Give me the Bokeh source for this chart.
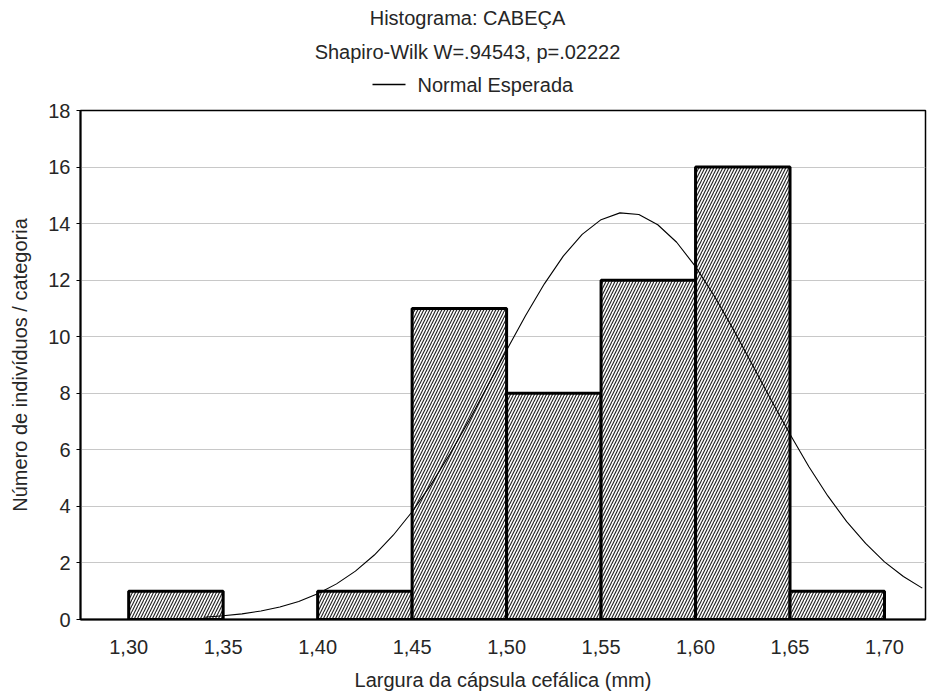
from bokeh.plotting import figure
from bokeh.models import FixedTicker, ColumnDataSource, Range1d
from bokeh.core.properties import value
from bokeh.layouts import column
from bokeh.embed import file_html
from bokeh.resources import INLINE

# Histogram bins (mm) and counts
bin_left = [1.30, 1.35, 1.40, 1.45, 1.50, 1.55, 1.60, 1.65]
bin_right = [1.35, 1.40, 1.45, 1.50, 1.55, 1.60, 1.65, 1.70]
counts = [1, 0, 1, 11, 8, 12, 16, 1]

# Expected normal curve
curve_x = [1.34, 1.35, 1.36, 1.37, 1.38, 1.39, 1.40, 1.41, 1.42, 1.43, 1.44, 1.45,
           1.46, 1.47, 1.48, 1.49, 1.50, 1.51, 1.52, 1.53, 1.54, 1.55, 1.56, 1.57,
           1.58, 1.59, 1.60, 1.61, 1.62, 1.63, 1.64, 1.65, 1.66, 1.67, 1.68, 1.69,
           1.70, 1.71, 1.72]
curve_y = [0.08, 0.13, 0.20, 0.30, 0.44, 0.64, 0.91, 1.26, 1.71, 2.28, 2.98, 3.81,
           4.77, 5.85, 7.02, 8.27, 9.52, 10.74, 11.87, 12.85, 13.62, 14.14, 14.38, 14.32,
           13.96, 13.34, 12.48, 11.43, 10.26, 9.02, 7.76, 6.55, 5.40, 4.37, 3.46, 2.69,
           2.04, 1.52, 1.11]

x_ticks = [1.30, 1.35, 1.40, 1.45, 1.50, 1.55, 1.60, 1.65, 1.70]
x_tick_labels = ["1,30", "1,35", "1,40", "1,45", "1,50", "1,55", "1,60", "1,65", "1,70"]
y_ticks = [0, 2, 4, 6, 8, 10, 12, 14, 16, 18]

title_text = "Histograma: CABEÇA"
subtitle_text = "Shapiro-Wilk W=.94543, p=.02222"
legend_text = "Normal Esperada"
x_label = "Largura da cápsula cefálica (mm)"
y_label = "Número de indivíduos / categoria"

FONT = "Liberation Sans"
TXT = "#262626"
FS = "20px"
HEADER_H = 96

# ---- header (titles + legend); its frame is aligned with the main frame,
#      and its ranges are in canvas pixels ----
top = figure(frame_width=845, frame_height=HEADER_H, x_range=Range1d(80, 925),
             y_range=Range1d(HEADER_H, 0),
             x_axis_type=None, y_axis_type=None, output_backend="svg",
             toolbar_location=None, min_border_left=80, min_border_right=2,
             min_border_top=0, min_border_bottom=0, outline_line_color=None,
             background_fill_color="white", border_fill_color="white")
top.xgrid.visible = False
top.ygrid.visible = False
top.text(x=[467, 467], y=[17, 51], text=[title_text, subtitle_text],
         text_font=value(FONT), text_font_size=FS, text_color=TXT,
         text_align="center", text_baseline="middle")
# legend: line sample + label
top.line(x=[372, 405], y=[84, 84], line_color="black", line_width=1.6)
top.text(x=[417], y=[84], text=[legend_text],
         text_font=value(FONT), text_font_size=FS, text_color=TXT,
         text_align="left", text_baseline="middle")

# ---- main histogram ----
p = figure(frame_width=845, frame_height=509, x_range=(1.2745, 1.7217), y_range=(0, 18),
           output_backend="svg", toolbar_location=None, title=None,
           min_border_left=80, min_border_right=2, min_border_bottom=78,
           min_border_top=110 - HEADER_H,
           background_fill_color="white", border_fill_color="white")

src = ColumnDataSource(dict(left=[l for l, c in zip(bin_left, counts) if c > 0],
                            right=[r for r, c in zip(bin_right, counts) if c > 0],
                            top=[c for c in counts if c > 0]))
p.quad(left="left", right="right", bottom=0, top="top", source=src,
       fill_color="white", line_color="black", line_width=3,
       hatch_pattern="/", hatch_color="black", hatch_scale=6, hatch_weight=1.15, hatch_alpha=0.85)

p.line(curve_x, curve_y, line_color="black", line_width=1.1)

p.xaxis.ticker = FixedTicker(ticks=x_ticks)
p.xaxis.major_label_overrides = {t: l for t, l in zip(x_ticks, x_tick_labels)}
p.yaxis.ticker = FixedTicker(ticks=y_ticks)
p.xaxis.major_tick_line_color = None
p.xaxis.minor_tick_line_color = None
p.yaxis.minor_tick_line_color = None
p.yaxis.major_tick_out = 4
p.yaxis.major_tick_in = 0
p.axis.axis_line_color = "black"
p.axis.axis_line_width = 2
p.axis.major_label_text_font = FONT
p.axis.major_label_text_font_size = FS
p.axis.major_label_text_color = TXT
p.axis.axis_label_text_font = FONT
p.axis.axis_label_text_font_size = FS
p.axis.axis_label_text_font_style = "normal"
p.axis.axis_label_text_color = TXT
p.xaxis.axis_label = x_label
p.yaxis.axis_label = y_label
p.xaxis.major_label_standoff = 14
p.xaxis.axis_label_standoff = 12
p.yaxis.major_label_standoff = 6
p.yaxis.axis_label_standoff = 14

p.xgrid.grid_line_color = None
p.ygrid.grid_line_color = "#c8c8c8"
p.ygrid.grid_line_width = 1
p.outline_line_color = "black"
p.outline_line_width = 1.5

open("out.html", "w").write(file_html(column(top, p, spacing=0), INLINE))
